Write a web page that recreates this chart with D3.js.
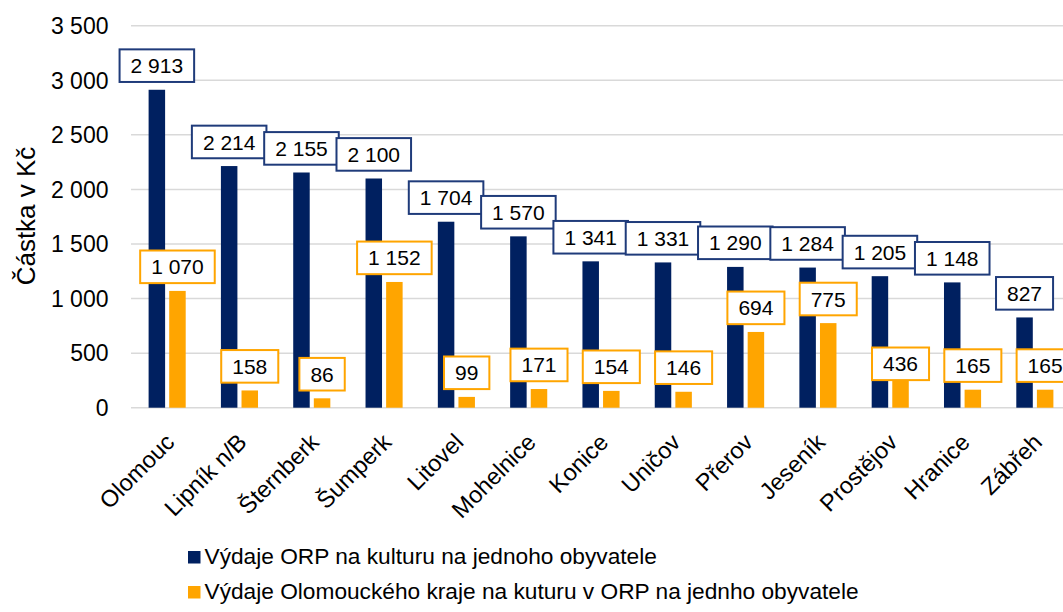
<!DOCTYPE html>
<html>
<head>
<meta charset="utf-8">
<script src="https://cdn.jsdelivr.net/npm/d3@7"></script>
<style>
  body { margin: 0; background: #fff; }
  text { font-family: "Liberation Sans", Arial, sans-serif; fill: #000; }
</style>
</head>
<body>
<div id="chart"></div>
<script>
// data
const categories = ["Olomouc", "Lipník n/B", "Šternberk", "Šumperk", "Litovel", "Mohelnice",
  "Konice", "Uničov", "Přerov", "Jeseník", "Prostějov", "Hranice", "Zábřeh"];
const orpValues = [2913, 2214, 2155, 2100, 1704, 1570, 1341, 1331, 1290, 1284, 1205, 1148, 827];
const krajValues = [1070, 158, 86, 1152, 99, 171, 154, 146, 694, 775, 436, 165, 165];
const yTicks = [0, 500, 1000, 1500, 2000, 2500, 3000, 3500];
const seriesNames = ["Výdaje ORP na kulturu na jednoho obyvatele",
  "Výdaje Olomouckého kraje na kuturu v ORP na jednho obyvatele"];

const width = 1063, height = 612;
const navy = "#002060", orange = "#FFA500";

const svg = d3.select("#chart").append("svg")
    .attr("width", width)
    .attr("height", height);

const x = d3.scaleBand().domain(categories).range([131, 1071]);
const y = d3.scaleLinear().domain([0, 3500]).range([407.7, 25.7]);
const fmt = v => d3.format(",")(v).replace(/,/g, " ");

// gridlines
svg.append("g").selectAll("line")
    .data(yTicks)
    .join("line")
    .attr("x1", 131).attr("x2", width)
    .attr("y1", d => y(d)).attr("y2", d => y(d))
    .attr("stroke", "#d9d9d9")
    .attr("stroke-width", 1.5);

// y tick labels
svg.append("g").selectAll("text")
    .data(yTicks)
    .join("text")
    .attr("x", 108.5)
    .attr("y", d => y(d))
    .attr("dy", "0.36em")
    .attr("text-anchor", "end")
    .style("font-size", "23px")
    .text(fmt);

// axis title
svg.append("text")
    .attr("transform", "translate(35,216) rotate(-90)")
    .attr("text-anchor", "middle")
    .style("font-size", "26px")
    .text("Částka v Kč");

const barW = 16.5, off = 10.3;
const series = [
  { values: orpValues, color: navy, border: "#1f3b7a", dx: -off },
  { values: krajValues, color: orange, border: orange, dx: off }
];

series.forEach(s => {
  svg.append("g").selectAll("rect")
      .data(categories)
      .join("rect")
      .attr("x", (d, i) => x(d) + x.bandwidth() / 2 + s.dx - barW / 2)
      .attr("width", barW)
      .attr("y", (d, i) => y(s.values[i]))
      .attr("height", (d, i) => y(0) - y(s.values[i]))
      .attr("fill", s.color);
});

// data labels (callout boxes)
series.forEach(s => {
  const g = svg.append("g");
  categories.forEach((c, i) => {
    const cx = x(c) + x.bandwidth() / 2 + s.dx;
    let bottom = y(s.values[i]) - 7.8;
    if (s.color === orange && c === "Prostějov") bottom = y(s.values[i]) + 20; // label moved down in the original
    const lab = g.append("g");
    const rect = lab.append("rect");
    const t = lab.append("text")
        .attr("x", cx)
        .attr("y", bottom - 16.3)
        .attr("dy", "0.36em")
        .attr("text-anchor", "middle")
        .style("font-size", "21px")
        .text(fmt(s.values[i]));
    const w = t.node().getComputedTextLength() + 22;
    rect.attr("x", cx - w / 2)
        .attr("y", bottom - 32.6)
        .attr("width", w)
        .attr("height", 32.6)
        .attr("fill", "#fff")
        .attr("stroke", s.border)
        .attr("stroke-width", 2);
  });
});

// category labels
svg.append("g").selectAll("text")
    .data(categories)
    .join("text")
    .attr("transform", d => `translate(${x(d) + x.bandwidth() / 2 - 3},${432}) rotate(-45)`)
    .attr("text-anchor", "end")
    .attr("dy", "0.7em")
    .style("font-size", "23.5px")
    .text(d => d);

// legend
const legend = svg.append("g").selectAll("g")
    .data(seriesNames)
    .join("g")
    .attr("transform", (d, i) => `translate(188,${551 + i * 35})`);
legend.append("rect")
    .attr("width", 12.5).attr("height", 12.5)
    .attr("fill", (d, i) => i === 0 ? navy : orange);
legend.append("text")
    .attr("x", 16.5)
    .attr("y", 13.3)
    .style("font-size", "22.7px")
    .text(d => d);
</script>
</body>
</html>
